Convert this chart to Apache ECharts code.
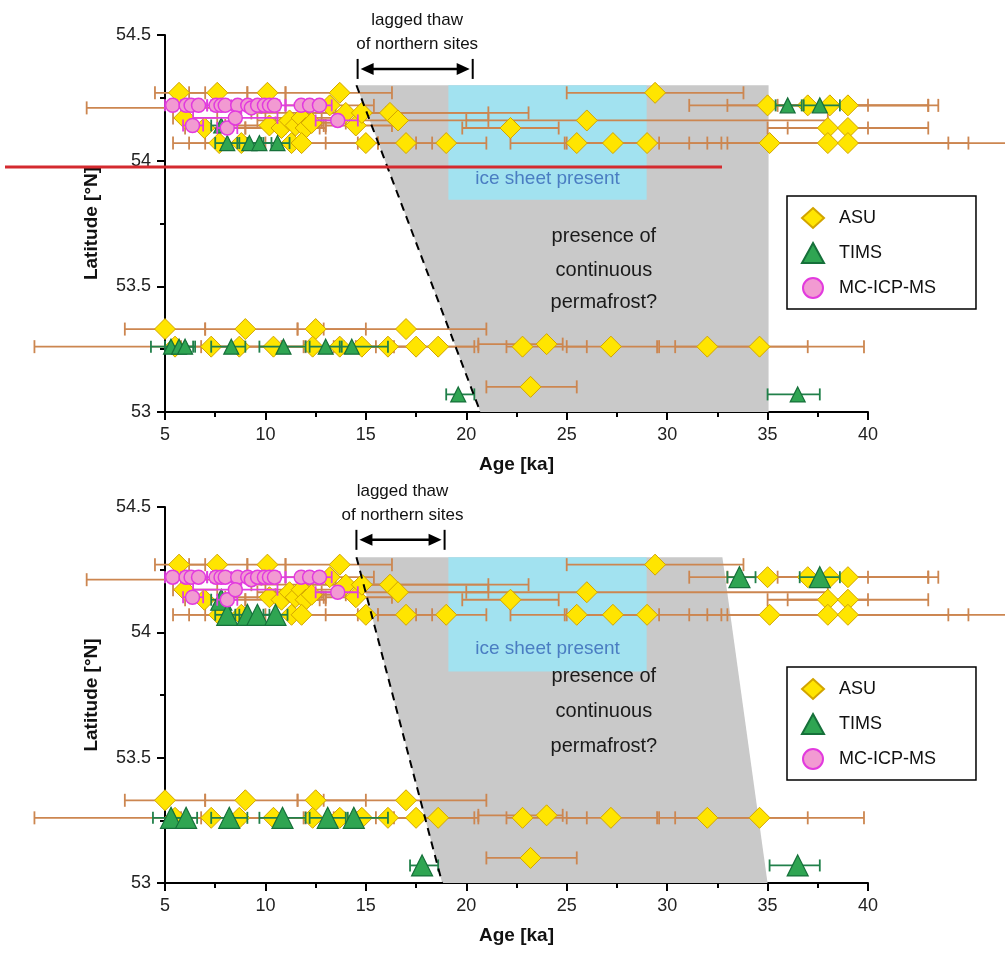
<!DOCTYPE html>
<html><head><meta charset="utf-8">
<script src="https://cdn.jsdelivr.net/npm/echarts@6/dist/echarts.min.js"></script>
<style>html,body{margin:0;padding:0;background:#fff}#c{width:1005px;height:954px}</style>
</head><body><div id="c"></div>
<script>
// ---------- data (age ka, latitude °N, age low, age high) ----------
const ageTicks = [5, 10, 15, 20, 25, 30, 35, 40];
const latTicks = [53, 53.5, 54, 54.5];

const asu = [
  [5.7,54.27,4.5,7.0],[7.6,54.27,6.2,9.1],[10.1,54.27,9.1,11.0],[13.7,54.27,11.0,16.3],[29.4,54.27,25.0,33.8],
  [4.9,54.21,1.1,8.7],[13.2,54.22,11.0,15.4],[35.0,54.22,31.1,40.0],[37.0,54.22,33.0,43.0],[38.1,54.22,35.5,43.5],[39.0,54.22,35.0,43.0],
  [5.96,54.17,5.4,7.6],[6.96,54.13,6.0,9.0],[10.2,54.14,8.0,12.3],[10.8,54.13,9.0,12.7],[11.2,54.16,9.6,12.8],
  [11.5,54.14,10.2,12.9],[11.8,54.17,10.0,13.5],[12.0,54.13,11.0,13.0],[12.3,54.15,10.5,14.0],[14.0,54.19,12.0,16.0],
  [14.5,54.14,13.0,16.3],[14.8,54.19,13.5,21.1],[16.2,54.19,9.3,23.1],[16.6,54.16,12.1,21.1],[26.0,54.16,20.0,38.0],
  [22.2,54.13,19.8,24.6],[38.0,54.13,35.0,43.0],[39.0,54.13,36.0,40.0],
  [7.7,54.07,5.4,10.0],[8.8,54.07,6.2,11.4],[11.3,54.07,7.0,15.6],[11.8,54.07,9.0,14.6],[15.0,54.07,13.0,17.0],
  [17.0,54.07,15.6,18.3],[19.0,54.07,17.5,21.0],[25.5,54.07,22.2,29.0],[27.3,54.07,25.0,29.6],[29.0,54.07,24.9,32.7],
  [35.1,54.07,31.1,45.0],[38.0,54.07,33.0,44.0],[39.0,54.07,32.0,48.0],
  [5.0,53.33,3.0,7.0],[9.0,53.33,7.0,11.6],[12.5,53.33,11.6,15.0],[17.0,53.33,12.9,21.0],
  [5.5,53.26,-1.5,12.5],[7.3,53.26,5.8,8.9],[8.7,53.26,6.8,10.4],[10.4,53.26,8.8,12.0],[12.35,53.26,10.8,13.9],
  [13.7,53.26,11.9,15.5],[14.8,53.26,13.4,16.1],[16.1,53.26,14.6,17.6],[17.5,53.26,14.5,20.4],[18.6,53.26,16.4,20.6],
  [22.8,53.26,22.0,26.0],[24.0,53.27,20.6,24.8],[27.2,53.26,25.0,29.5],[32.0,53.26,29.6,37.0],[34.6,53.26,30.4,39.8],
  [23.2,53.10,21.0,25.5]
];

const mcicpms = [
  [5.38,54.22,5.0,5.8],[6.05,54.22,5.6,6.5],[6.3,54.22,5.9,6.8],[6.67,54.22,6.2,7.1],[7.54,54.22,7.1,8.0],
  [7.79,54.22,7.3,8.3],[8.0,54.22,7.5,8.5],[8.62,54.22,8.1,9.1],[9.12,54.22,8.6,9.6],[9.3,54.21,8.8,9.8],
  [9.61,54.22,9.1,10.1],[9.95,54.22,9.4,10.5],[10.2,54.22,9.7,10.7],[10.45,54.22,10.0,11.0],[11.78,54.22,11.0,12.4],
  [12.2,54.22,11.6,12.8],[12.69,54.22,12.1,13.3],[6.37,54.14,5.9,6.9],[8.1,54.13,7.6,8.6],[8.5,54.17,6.4,10.6],
  [13.6,54.16,12.5,14.6]
];

const timsTop = [
  [36.0,54.22,35.4,36.7],[37.6,54.22,36.8,38.6],[7.8,54.14,7.3,8.3],
  [8.1,54.07,7.5,8.7],[9.2,54.07,8.6,9.8],[9.7,54.07,9.1,10.3],[10.6,54.07,9.9,11.2],
  [5.3,53.26,4.3,6.0],[5.7,53.26,5.0,6.4],[6.0,53.26,5.3,6.5],[8.3,53.26,7.3,9.0],[10.9,53.26,9.7,12.0],
  [13.0,53.26,12.2,13.8],[14.3,53.26,13.7,16.1],[19.6,53.07,19.0,20.4],[36.5,53.07,35.0,37.6]
];

const timsBottom = [
  [33.6,54.22,33.0,34.4],[37.6,54.22,36.6,38.6],[7.8,54.13,7.3,8.3],
  [8.1,54.07,7.5,8.7],[9.1,54.07,8.5,9.7],[9.6,54.07,9.0,10.2],[10.5,54.07,9.9,11.1],
  [5.3,53.26,4.4,6.0],[6.05,53.26,5.4,6.6],[8.2,53.26,7.3,9.1],[10.85,53.26,9.7,12.0],[13.1,53.26,12.2,14.0],
  [14.4,53.26,14.1,16.1],[17.8,53.07,17.2,18.6],[36.5,53.07,35.1,37.6]
];

// shaded regions (ka, lat vertices)
const permafrostTop = [[14.53,54.30],[35.05,54.30],[35.05,53.0],[20.7,53.0]];
const permafrostBottom = [[14.53,54.30],[32.75,54.30],[35.0,53.0],[18.8,53.0]];
const iceSheet = [19.11, 28.98, 53.844, 54.30];
const lagTop = [14.59, 20.32, 54.365];
const lagBottom = [14.53, 18.92, 54.369];

const lagLabel = ['lagged thaw', 'of northern sites'];
const permLabel = ['presence of', 'continuous', 'permafrost?'];
const iceLabel = 'ice sheet present';
const legendNames = ['ASU', 'TIMS', 'MC-ICP-MS'];

// ---------- styling ----------
const FONT = '"Liberation Sans", Arial, Helvetica, sans-serif';
const C = {
  asuFill: '#ffe500', asuEdge: '#d2a400', asuBar: '#cc8650',
  timsFill: '#2fa552', timsEdge: '#16703a', timsBar: '#21804a',
  mcFill: '#f29ad2', mcEdge: '#e23ade', mcBar: '#e040de',
  gray: '#c9c9c9', ice: '#a2e2f0', iceText: '#4a7dc2'
};

function txt(pt, text, size, color, weight) {
  return {type: 'text', x: pt[0], y: pt[1], z2: 5,
    style: {text: text, fill: color, font: (weight || 'normal') + ' ' + size + 'px ' + FONT,
      align: 'center', verticalAlign: 'middle', textAlign: 'center', textVerticalAlign: 'middle'}};
}

function errSeries(p, data, color, cap, z) {
  return {type: 'custom', xAxisIndex: p, yAxisIndex: p, z: z, silent: true, clip: false,
    encode: {x: 0, y: 1}, data: data,
    renderItem: function (params, api) {
      const y = api.value(1);
      const a = api.coord([api.value(2), y]), b = api.coord([api.value(3), y]);
      const h = cap / 2, s = {stroke: color, lineWidth: 1.8};
      return {type: 'group', children: [
        {type: 'line', shape: {x1: a[0], y1: a[1], x2: b[0], y2: b[1]}, style: s},
        {type: 'line', shape: {x1: a[0], y1: a[1] - h, x2: a[0], y2: a[1] + h}, style: s},
        {type: 'line', shape: {x1: b[0], y1: b[1] - h, x2: b[0], y2: b[1] + h}, style: s}
      ]};
    }};
}

function panelSeries(p, tims, timsSize, shade, lag, permLat, iceLat) {
  return [
    {type: 'custom', xAxisIndex: p, yAxisIndex: p, z: 1, silent: true, clip: false,
      data: [shade[0]],
      renderItem: function (params, api) {
        return {type: 'polygon', shape: {points: shade.map(function (v) { return api.coord(v); })},
          style: {fill: C.gray}};
      }},
    {type: 'custom', xAxisIndex: p, yAxisIndex: p, z: 2, silent: true, clip: false,
      data: [[iceSheet[0], iceSheet[2]]],
      renderItem: function (params, api) {
        const a = api.coord([iceSheet[0], iceSheet[3]]), b = api.coord([iceSheet[1], iceSheet[2]]);
        return {type: 'group', children: [
          {type: 'rect', shape: {x: a[0], y: a[1], width: b[0] - a[0], height: b[1] - a[1]}, style: {fill: C.ice}},
          txt(api.coord([(iceSheet[0] + iceSheet[1]) / 2, iceLat]), iceLabel, 19, C.iceText)
        ]};
      }},
    {type: 'custom', xAxisIndex: p, yAxisIndex: p, z: 2, silent: true, clip: false,
      data: [[26.85, permLat[1]]],
      renderItem: function (params, api) {
        return {type: 'group', children: permLabel.map(function (t, i) {
          return txt(api.coord([26.85, permLat[i]]), t, 20, '#1a1a1a');
        })};
      }},
    errSeries(p, asu, C.asuBar, 13, 3),
    {type: 'scatter', name: 'ASU', xAxisIndex: p, yAxisIndex: p, z: 4, data: asu.map(function (d) { return [d[0], d[1]]; }),
      symbol: 'diamond', symbolSize: 21, itemStyle: {color: C.asuFill, borderColor: C.asuEdge, borderWidth: 1, opacity: 1}},
    errSeries(p, tims, C.timsBar, 12, 5),
    {type: 'scatter', name: 'TIMS', xAxisIndex: p, yAxisIndex: p, z: 6, data: tims.map(function (d) { return [d[0], d[1]]; }),
      symbol: 'triangle', symbolSize: timsSize, itemStyle: {color: C.timsFill, borderColor: C.timsEdge, borderWidth: 1.2, opacity: 1}},
    errSeries(p, mcicpms, C.mcBar, 12, 7),
    {type: 'scatter', name: 'MC-ICP-MS', xAxisIndex: p, yAxisIndex: p, z: 8, data: mcicpms.map(function (d) { return [d[0], d[1]]; }),
      symbol: 'circle', symbolSize: 14, itemStyle: {color: C.mcFill, borderColor: C.mcEdge, borderWidth: 1.5, opacity: 1}},
    {type: 'custom', xAxisIndex: p, yAxisIndex: p, z: 10, silent: true, clip: false,
      data: [[shade[3][0], shade[3][1]]],
      renderItem: function (params, api) {
        const a = api.coord(shade[0]), b = api.coord(shade[3]);
        return {type: 'line', shape: {x1: a[0], y1: a[1], x2: b[0], y2: b[1]},
          style: {stroke: '#000', lineWidth: 2, lineDash: [8, 6]}};
      }},
    {type: 'custom', xAxisIndex: p, yAxisIndex: p, z: 10, silent: true, clip: false,
      data: [[lag[0], lag[2]]],
      renderItem: function (params, api) {
        const a = api.coord([lag[0], lag[2]]), b = api.coord([lag[1], lag[2]]);
        const y = a[1], hl = 13, hw = 6, h = 10;
        const st = {stroke: '#000', lineWidth: 2};
        return {type: 'group', children: [
          {type: 'line', shape: {x1: a[0] + hl, y1: y, x2: b[0] - hl, y2: y}, style: {stroke: '#000', lineWidth: 2.5}},
          {type: 'polygon', shape: {points: [[a[0] + 3, y], [a[0] + 3 + hl, y - hw], [a[0] + 3 + hl, y + hw]]}, style: {fill: '#000'}},
          {type: 'polygon', shape: {points: [[b[0] - 3, y], [b[0] - 3 - hl, y - hw], [b[0] - 3 - hl, y + hw]]}, style: {fill: '#000'}},
          {type: 'line', shape: {x1: a[0], y1: y - h, x2: a[0], y2: y + h}, style: st},
          {type: 'line', shape: {x1: b[0], y1: y - h, x2: b[0], y2: y + h}, style: st},
          txt([(a[0] + b[0]) / 2 + 2, y - 49], lagLabel[0], 17, '#111'),
          txt([(a[0] + b[0]) / 2 + 2, y - 25], lagLabel[1], 17, '#111')
        ]};
      }}
  ];
}

function xAx(i) {
  return {type: 'value', gridIndex: i, min: ageTicks[0], max: ageTicks[ageTicks.length - 1], interval: 5,
    name: 'Age [ka]', nameLocation: 'middle', nameGap: 43,
    nameTextStyle: {fontFamily: FONT, fontWeight: 'bold', fontSize: 19, color: '#111'},
    axisLine: {onZero: false, lineStyle: {color: '#000', width: 2}},
    axisTick: {length: 8, lineStyle: {color: '#000', width: 2}},
    minorTick: {show: true, splitNumber: 2, length: 5, lineStyle: {color: '#000', width: 2}},
    axisLabel: {margin: 14, fontFamily: FONT, fontSize: 18, color: '#222',
      formatter: function (v) { return ageTicks.indexOf(v) >= 0 ? String(v) : ''; }},
    splitLine: {show: false}};
}
function yAx(i) {
  return {type: 'value', gridIndex: i, min: latTicks[0], max: latTicks[latTicks.length - 1], interval: 0.5,
    name: 'Latitude [°N]', nameLocation: 'middle', nameGap: 64, nameRotate: 90,
    nameTextStyle: {fontFamily: FONT, fontWeight: 'bold', fontSize: 19, color: '#111'},
    axisLine: {onZero: false, lineStyle: {color: '#000', width: 2}},
    axisTick: {length: 8, lineStyle: {color: '#000', width: 2}},
    minorTick: {show: true, splitNumber: 2, length: 5, lineStyle: {color: '#000', width: 2}},
    axisLabel: {margin: 14, fontFamily: FONT, fontSize: 18, color: '#222',
      formatter: function (v) { return latTicks.indexOf(v) >= 0 ? String(v) : ''; }},
    splitLine: {show: false}};
}
function legendAt(top) {
  return {orient: 'vertical', left: 787, top: top, padding: [11, 40, 10, 14],
    itemWidth: 22, itemHeight: 20, itemGap: 13, borderColor: '#000', borderWidth: 1.5,
    data: legendNames, selectedMode: false, symbolKeepAspect: true,
    textStyle: {fontFamily: FONT, fontSize: 18, color: '#111', padding: [0, 0, 0, 10]}};
}

const chart = echarts.init(document.getElementById('c'), null, {renderer: 'canvas'});
chart.setOption({
  animation: false,
  backgroundColor: '#fff',
  grid: [
    {left: 165, right: 137, top: 35, height: 377},
    {left: 165, right: 137, top: 507, height: 376}
  ],
  xAxis: [xAx(0), xAx(1)],
  yAxis: [yAx(0), yAx(1)],
  legend: [legendAt(196), legendAt(667)],
  series: [].concat(
    panelSeries(0, timsTop, 15, permafrostTop, lagTop, [53.70, 53.565, 53.434], 53.927),
    panelSeries(1, timsBottom, 21, permafrostBottom, lagBottom, [53.823, 53.683, 53.544], 53.934)
  ),
  graphic: [
    {type: 'line', z: 100, shape: {x1: 5, y1: 167, x2: 722, y2: 167}, style: {stroke: '#d42a2f', lineWidth: 3}}
  ]
});
</script>
</body></html>
